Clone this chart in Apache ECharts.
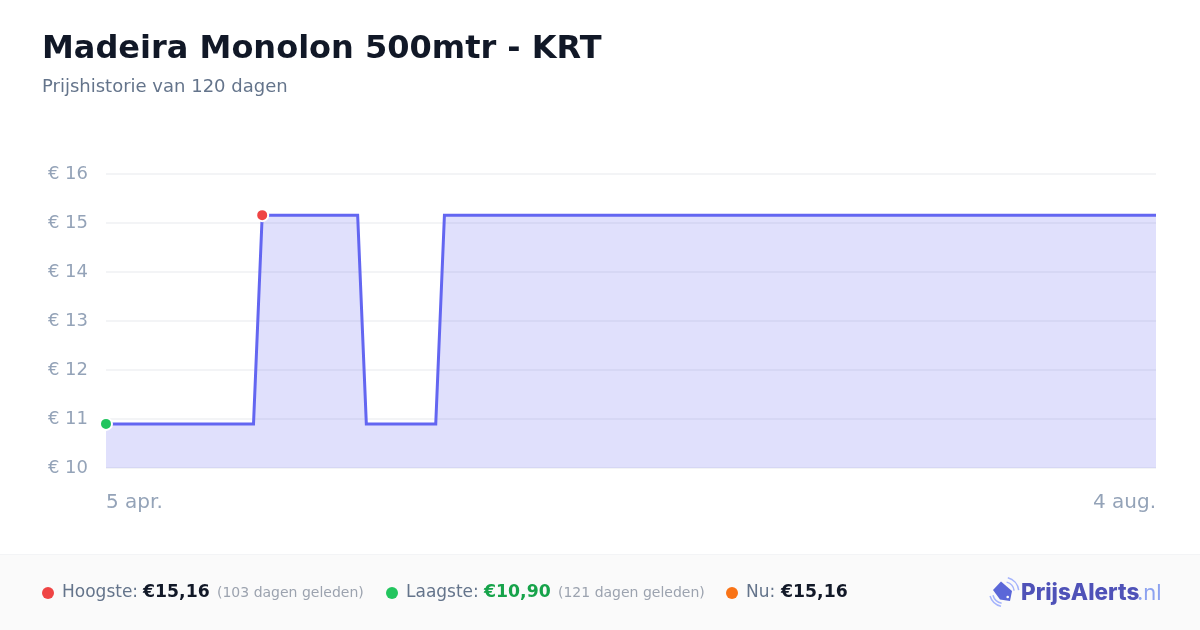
<!DOCTYPE html>
<html><head><meta charset="utf-8">
<style>html,body{margin:0;padding:0;background:#fff}#c{width:1200px;height:630px}</style>
<script src="https://cdn.jsdelivr.net/npm/echarts@6/dist/echarts.min.js"></script>
</head><body><div id="c"></div>
<script>
const titleText = 'Madeira Monolon 500mtr - KRT';
const subtitleText = 'Prijshistorie van 120 dagen';
const dayIndex = [0, 17, 18, 29, 30, 38, 39, 121];
const prices = [10.90, 10.90, 15.16, 15.16, 10.90, 10.90, 15.16, 15.16];
const startLabel = '5 apr.';
const endLabel = '4 aug.';
const highPoint = [18, 15.16];
const lowPoint = [0, 10.90];
const F = '"DejaVu Sans", sans-serif';
const chart = echarts.init(document.getElementById('c'), null, {renderer: 'canvas'});
function txt(x, y, text, size, fill, weight, font) {
  return {type: 'text', x, y, z: 10, style: {text, fontSize: size, fill, fontWeight: weight || 'normal', fontFamily: font || F, textVerticalAlign: 'middle'}};
}
function dot(cx, color) {
  return {type: 'circle', z: 10, shape: {cx, cy: 593, r: 6}, style: {fill: color}};
}
function arc(r, a, b) {
  return {type: 'arc', z: 10, shape: {cx: 1004, cy: 592, r, startAngle: a, endAngle: b}, style: {fill: 'none', stroke: '#a5b4fc', lineWidth: 1.5}};
}
chart.setOption({
  animation: false,
  backgroundColor: '#fff',
  grid: {left: 106, right: 44, top: 174, height: 294, containLabel: false},
  xAxis: {
    type: 'value', min: 0, max: 121, interval: 121,
    axisLine: {show: false}, axisTick: {show: false}, splitLine: {show: false},
    axisLabel: {
      margin: 25, fontSize: 20, color: '#94a3b8', fontFamily: F,
      alignMinLabel: 'left', alignMaxLabel: 'right',
      formatter: v => v === 0 ? startLabel : endLabel
    }
  },
  yAxis: {
    type: 'value', min: 10, max: 16, interval: 1,
    axisLine: {show: false}, axisTick: {show: false},
    splitLine: {lineStyle: {color: '#f3f4f6', width: 2}},
    axisLabel: {margin: 18, fontSize: 18, lineHeight: 20, padding: [2, 0, 0, 0], color: '#94a3b8', fontFamily: F, formatter: v => '€ ' + v}
  },
  series: [
    {
      type: 'line', data: dayIndex.map((d, i) => [d, prices[i]]),
      showSymbol: false, symbol: 'none', smooth: false,
      lineStyle: {color: '#6366f1', width: 3, join: 'miter'},
      areaStyle: {color: '#6366f1', opacity: 0.2}, z: 3
    },
    {
      type: 'scatter', data: [highPoint], symbol: 'circle', symbolSize: 12, z: 5,
      itemStyle: {color: '#ef4444', borderColor: '#fff', borderWidth: 2, opacity: 1}
    },
    {
      type: 'scatter', data: [lowPoint], symbol: 'circle', symbolSize: 12, z: 5,
      itemStyle: {color: '#22c55e', borderColor: '#fff', borderWidth: 2, opacity: 1}
    }
  ],
  graphic: [
    txt(42, 50, titleText, 32, '#111827', 'bold'),
    txt(42, 87.5, subtitleText, 18, '#64748b'),
    {type: 'rect', z: 1, shape: {x: 0, y: 555, width: 1200, height: 75}, style: {fill: '#fafafa'}},
    {type: 'rect', z: 2, shape: {x: 0, y: 554, width: 1200, height: 1}, style: {fill: '#f3f4f6'}},
    dot(48, '#ef4444'),
    txt(62, 593, 'Hoogste:', 17, '#64748b'),
    txt(143, 593, '€15,16', 17.3, '#111827', 'bold'),
    txt(217, 593, '(103 dagen geleden)', 14, '#9ca3af'),
    dot(392, '#22c55e'),
    txt(406, 593, 'Laagste:', 17, '#64748b'),
    txt(484, 593, '€10,90', 17.3, '#16a34a', 'bold'),
    txt(558, 593, '(121 dagen geleden)', 14, '#9ca3af'),
    dot(732, '#f97316'),
    txt(746, 593, 'Nu:', 17, '#64748b'),
    txt(781, 593, '€15,16', 17.3, '#111827', 'bold'),
    // logo
    {type: 'polygon', z: 10, shape: {points: [[1001, 581.5], [1012, 591], [1010, 601], [1000, 599.5], [993, 590]]}, style: {fill: '#5b67d8'}},
    {type: 'circle', z: 11, shape: {cx: 1007.7, cy: 597, r: 1.3}, style: {fill: '#fff'}},
    arc(10.2, -1.31, -0.13),
    arc(14.8, -1.31, -0.13),
    arc(11.5, 1.78, 2.86),
    arc(14.5, 1.78, 2.86),
    txt(1021, 593, 'PrijsAlerts', 22.5, '#4f52b8', '800', 'Inter, sans-serif'),
    txt(1137, 593, '.nl', 22, '#8ca2f0', 'normal', 'Inter, sans-serif')
  ]
});
</script></body></html>
